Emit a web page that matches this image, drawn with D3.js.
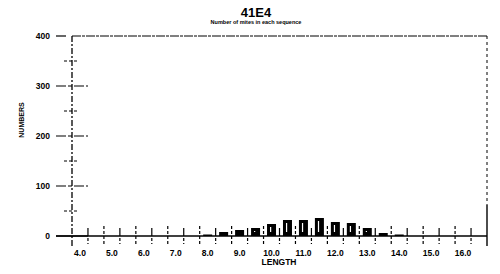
<!DOCTYPE html>
<html>
<head>
<meta charset="utf-8">
<script src="https://cdn.jsdelivr.net/npm/d3@7"></script>
<style>
  body { margin: 0; background: #fff; }
  text { font-family: "Liberation Sans", Arial, sans-serif; fill: #000; }
</style>
</head>
<body>
<svg id="chart"></svg>
<script>
// bin centres (length) and counts
const lengths = [8.0, 8.5, 9.0, 9.5, 10.0, 10.5, 11.0, 11.5, 12.0, 12.5, 13.0, 13.5, 14.0]
const counts  = [3, 8, 12, 16, 24, 32, 32, 36, 28, 26, 16, 6, 3]
const xLabels = ["4.0","5.0","6.0","7.0","8.0","9.0","10.0","11.0","12.0","13.0","14.0","15.0","16.0"]
const yTicks  = [0, 100, 200, 300, 400]

const width = 500, height = 274
const svg = d3.select("#chart").attr("width", width).attr("height", height)

const x = d3.scaleLinear().domain([3.75, 16.75]).range([72, 487])
const y = d3.scaleLinear().domain([0, 400]).range([236, 36])

// title
svg.append("text").attr("x", 256).attr("y", 17).attr("text-anchor", "middle")
  .style("font-size", "13px").style("font-weight", "bold").text("41E4")
svg.append("text").attr("x", 256).attr("y", 23.5).attr("text-anchor", "middle")
  .style("font-size", "5.5px").style("font-weight", "bold").text("Number of mites in each sequence")

// frame: top + right dashed
svg.append("line").attr("x1", 72).attr("x2", 487).attr("y1", y(400)).attr("y2", y(400))
  .attr("stroke", "#000").attr("stroke-width", 1).attr("stroke-dasharray", "9,1,3,1")
svg.append("line").attr("x1", 487).attr("x2", 487).attr("y1", y(400)).attr("y2", 205)
  .attr("stroke", "#000").attr("stroke-width", 1).attr("stroke-dasharray", "3,3")
svg.append("line").attr("x1", 487).attr("x2", 487).attr("y1", 205).attr("y2", 246)
  .attr("stroke", "#000").attr("stroke-width", 1.4)

// y axis line
svg.append("line").attr("x1", 72).attr("x2", 72).attr("y1", y(400)).attr("y2", 246)
  .attr("stroke", "#000").attr("stroke-width", 1.3).attr("stroke-dasharray", "6,2,2,2")

// y ticks
const yMinor = d3.range(50, 400, 100)
svg.append("g").selectAll("line").data(yTicks).enter().append("line")
  .attr("x1", 56).attr("x2", d => d === 400 ? 66 : 88)
  .attr("y1", d => y(d)).attr("y2", d => y(d))
  .attr("stroke", "#000").attr("stroke-width", 1.2)
  .attr("stroke-dasharray", d => d === 0 ? null : "10,2,4,2")
svg.append("g").selectAll("line").data(yMinor).enter().append("line")
  .attr("x1", 64).attr("x2", 79)
  .attr("y1", d => y(d)).attr("y2", d => y(d))
  .attr("stroke", "#000").attr("stroke-width", 1.1).attr("stroke-dasharray", "3,2")
svg.append("g").selectAll("text").data(yTicks).enter().append("text")
  .attr("x", 50).attr("y", d => y(d) + 3).attr("text-anchor", "end")
  .style("font-size", "8.5px").style("font-weight", "bold").text(d => d)
svg.append("text").attr("transform", "translate(24,120) rotate(-90)")
  .attr("text-anchor", "middle").style("font-size", "7px").style("font-weight", "bold")
  .text("NUMBERS")

// bars
svg.append("g").selectAll("rect").data(lengths).enter().append("rect")
  .attr("x", d => x(d) - 4.5).attr("width", 9)
  .attr("y", (d, i) => y(counts[i])).attr("height", (d, i) => y(0) - y(counts[i]))
  .attr("fill", "#000")
svg.append("g").selectAll("rect").data(lengths).enter().append("rect")
  .attr("x", d => x(d) - 1.5).attr("width", 1.2)
  .attr("y", (d, i) => y(counts[i]) + 3).attr("height", (d, i) => Math.max(0, y(0) - y(counts[i]) - 7))
  .attr("fill", "#fff")

// x baseline
svg.append("line").attr("x1", 56).attr("x2", 487).attr("y1", y(0)).attr("y2", y(0))
  .attr("stroke", "#000").attr("stroke-width", 1.4)

// x ticks at bin edges
const edges = d3.range(4.25, 16.75, 0.5)
svg.append("g").selectAll("line").data(edges).enter().append("line")
  .attr("x1", d => x(d)).attr("x2", d => x(d))
  .attr("y1", (d, i) => i % 2 ? 226 : 228).attr("y2", (d, i) => i % 2 ? 246 : 244)
  .attr("stroke", "#000").attr("stroke-width", 1.2)
  .attr("stroke-dasharray", (d, i) => i % 2 ? "3,2" : "8,2,3,2")
svg.append("g").selectAll("text").data(xLabels).enter().append("text")
  .attr("x", (d, i) => x(4 + i)).attr("y", 256).attr("text-anchor", "middle")
  .style("font-size", "8.5px").style("font-weight", "bold").text(d => d)
svg.append("text").attr("x", 279).attr("y", 265).attr("text-anchor", "middle")
  .style("font-size", "8.5px").style("font-weight", "bold").text("LENGTH")
</script>
</body>
</html>
